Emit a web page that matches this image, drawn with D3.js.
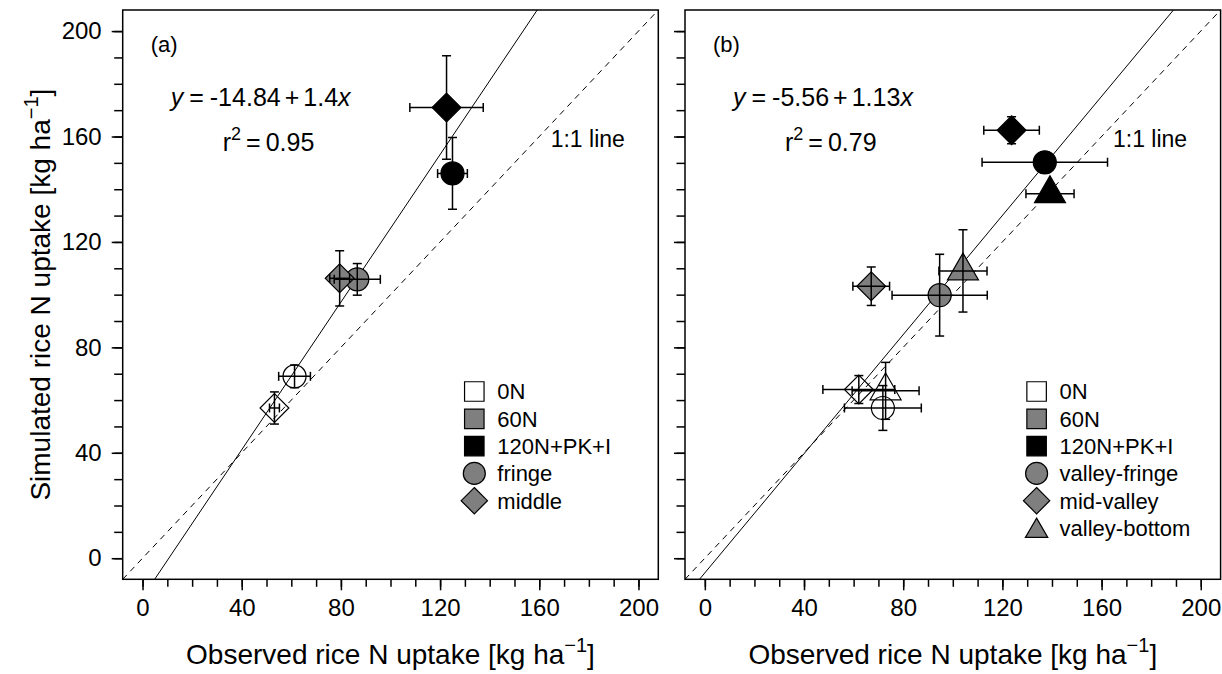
<!DOCTYPE html>
<html>
<head>
<meta charset="utf-8">
<script src="https://cdn.jsdelivr.net/npm/d3@7"></script>
<style>
  body { margin: 0; background: #fff; }
  svg text { font-family: "Liberation Sans", Arial, sans-serif; fill: #000; }
</style>
</head>
<body>
<svg id="chart" width="1222" height="674"></svg>
<script>
// ---- data ----
var treatments = ["0N", "60N", "120N+PK+I"];

// panel (a)
var aPositions = ["fringe", "middle"];
var aTreat = ["0N", "0N", "60N", "60N", "120N+PK+I", "120N+PK+I"];
var aPos   = ["fringe", "middle", "fringe", "middle", "fringe", "middle"];
var aObs    = [61.3, 53.2, 86.6, 79.5, 125.0, 122.6];
var aObsErr = [6.4, 2.0, 9.3, 4.0, 6.0, 14.8];
var aSim    = [69.0, 57.0, 105.8, 106.2, 146.0, 171.0];
var aSimErr = [4.3, 6.1, 6.0, 10.5, 13.6, 19.6];
var aFit = {intercept: -14.84, slope: 1.4, r2: "0.95"};

// panel (b)
var bPositions = ["valley-fringe", "mid-valley", "valley-bottom"];
var bTreat = ["0N", "0N", "0N", "60N", "60N", "60N", "120N+PK+I", "120N+PK+I", "120N+PK+I"];
var bPos   = ["valley-fringe", "mid-valley", "valley-bottom",
              "valley-fringe", "mid-valley", "valley-bottom",
              "valley-fringe", "mid-valley", "valley-bottom"];
var bObs    = [71.8, 62.1, 72.9, 94.7, 67.1, 104.1, 137.1, 123.7, 139.2];
var bObsErr = [15.5, 14.5, 13.5, 19.2, 7.4, 9.7, 25.3, 11.2, 9.7];
var bSim    = [57.0, 64.0, 63.5, 99.8, 103.2, 109.0, 150.2, 162.4, 138.3];
var bSimErr = [8.5, 5.3, 10.8, 15.5, 7.3, 15.6, 4.0, 5.1, 3.0];
var bFit = {intercept: -5.56, slope: 1.13, r2: "0.79"};

var majorTicks = [0, 40, 80, 120, 160, 200];
var minorTicks = d3.range(0, 201, 10);
var axisDomain = [-8, 208];

// ---- styles ----
var fillOf = {"0N": "#ffffff", "60N": "#7f7f7f", "120N+PK+I": "#000000"};
var shapeOrder = ["circle", "diamond", "triangle"];
var R = 11.5;
var legendR = {square: 11, circle: 11, diamond: 10.5, triangle: 8.3};

function shapePath(shape, r) {
  if (shape == "circle") {
    return d3.symbol().type(d3.symbolCircle).size(Math.PI * r * r)();
  }
  if (shape == "diamond") {
    var d = r * 1.2533;
    return "M0," + (-d) + "L" + d + ",0L0," + d + "L" + (-d) + ",0Z";
  }
  if (shape == "triangle") {
    var t0 = r * 1.5551, t1 = r * 1.3468, t2 = r * 0.7776;
    return "M0," + (-t0) + "L" + t1 + "," + t2 + "L" + (-t1) + "," + t2 + "Z";
  }
  var s = r * 0.886;
  return "M" + (-s) + "," + (-s) + "H" + s + "V" + s + "H" + (-s) + "Z";
}

var svg = d3.select("#chart");
var top_ = 10, bottom_ = 579.3;

function drawPanel(cfg) {
  var x = d3.scaleLinear().domain(axisDomain).range([cfg.left, cfg.right]);
  var y = d3.scaleLinear().domain(axisDomain).range([bottom_, top_]);
  var g = svg.append("g");

  // axes: minor and major ticks
  var xMinor = g.append("g").attr("transform", "translate(0," + bottom_ + ")")
    .call(d3.axisBottom(x).tickValues(minorTicks).tickSize(7.5).tickFormat(""));
  var xMajor = g.append("g").attr("transform", "translate(0," + bottom_ + ")")
    .call(d3.axisBottom(x).tickValues(majorTicks).tickSize(11).tickPadding(9).tickFormat(d3.format("d")));
  var yMinor = g.append("g").attr("transform", "translate(" + cfg.left + ",0)")
    .call(d3.axisLeft(y).tickValues(minorTicks).tickSize(8.5).tickFormat(""));
  var yMajor = g.append("g").attr("transform", "translate(" + cfg.left + ",0)")
    .call(d3.axisLeft(y).tickValues(majorTicks).tickSize(11).tickPadding(10)
      .tickFormat(cfg.yLabels ? d3.format("d") : ""));
  [xMinor, xMajor, yMinor, yMajor].forEach(function(a) {
    a.select(".domain").remove();
    a.selectAll("line").attr("stroke", "#000").attr("stroke-width", 1.5);
    a.selectAll("text").style("font-size", "24px").attr("fill", "#000");
  });

  // clip for lines
  var clipId = "clip" + cfg.name;
  svg.append("clipPath").attr("id", clipId).append("rect")
    .attr("x", cfg.left).attr("y", top_)
    .attr("width", cfg.right - cfg.left).attr("height", bottom_ - top_);
  var inner = g.append("g").attr("clip-path", "url(#" + clipId + ")");

  // 1:1 line
  inner.append("line")
    .attr("x1", x(axisDomain[0])).attr("y1", y(axisDomain[0]))
    .attr("x2", x(axisDomain[1])).attr("y2", y(axisDomain[1]))
    .attr("stroke", "#000").attr("stroke-width", 1).attr("stroke-dasharray", "6,5");

  // regression line
  var f = function(v) { return cfg.fit.intercept + cfg.fit.slope * v; };
  inner.append("line")
    .attr("x1", x(-20)).attr("y1", y(f(-20)))
    .attr("x2", x(220)).attr("y2", y(f(220)))
    .attr("stroke", "#000").attr("stroke-width", 1);

  // points with error bars
  var pts = cfg.obs.map(function(o, i) {
    return {obs: o, oe: cfg.obsErr[i], sim: cfg.sim[i], se: cfg.simErr[i],
            treat: cfg.treat[i], pos: cfg.pos[i]};
  });

  inner.selectAll(".pt").data(pts).enter().append("path").attr("class", "pt")
    .attr("transform", function(d) { return "translate(" + x(d.obs) + "," + y(d.sim) + ")"; })
    .attr("d", function(d) { return shapePath(shapeOrder[cfg.positions.indexOf(d.pos)], R); })
    .attr("fill", function(d) { return fillOf[d.treat]; })
    .attr("fill-opacity", function(d) { return d.treat == "0N" ? 0 : 1; })
    .attr("stroke", "#000").attr("stroke-width", 1.2);

  // error bars on top of the symbols
  var cap = 4.5;
  var eb = inner.selectAll(".eb").data(pts).enter().append("g").attr("class", "eb")
    .attr("stroke", "#000").attr("stroke-width", 1.5);
  eb.append("line")
    .attr("x1", function(d) { return x(d.obs - d.oe); })
    .attr("x2", function(d) { return x(d.obs + d.oe); })
    .attr("y1", function(d) { return y(d.sim); })
    .attr("y2", function(d) { return y(d.sim); });
  eb.append("line")
    .attr("x1", function(d) { return x(d.obs); })
    .attr("x2", function(d) { return x(d.obs); })
    .attr("y1", function(d) { return y(d.sim - d.se); })
    .attr("y2", function(d) { return y(d.sim + d.se); });
  [-1, 1].forEach(function(s) {
    eb.append("line")
      .attr("x1", function(d) { return x(d.obs + s * d.oe); })
      .attr("x2", function(d) { return x(d.obs + s * d.oe); })
      .attr("y1", function(d) { return y(d.sim) - cap; })
      .attr("y2", function(d) { return y(d.sim) + cap; });
    eb.append("line")
      .attr("y1", function(d) { return y(d.sim + s * d.se); })
      .attr("y2", function(d) { return y(d.sim + s * d.se); })
      .attr("x1", function(d) { return x(d.obs) - cap; })
      .attr("x2", function(d) { return x(d.obs) + cap; });
  });

  // frame
  g.append("rect")
    .attr("x", cfg.left).attr("y", top_)
    .attr("width", cfg.right - cfg.left).attr("height", bottom_ - top_)
    .attr("fill", "none").attr("stroke", "#000").attr("stroke-width", 1.5);

  // texts
  g.append("text").attr("x", cfg.left + 28).attr("y", 52)
    .style("font-size", "22px").text(cfg.label);

  var eq = g.append("text").attr("x", cfg.left + 48).attr("y", 106).style("font-size", "25px");
  eq.append("tspan").style("font-style", "italic").text("y");
  eq.append("tspan").attr("dx", 6).text("=");
  eq.append("tspan").attr("dx", 6).text(String(cfg.fit.intercept));
  eq.append("tspan").attr("dx", 4).text("+");
  eq.append("tspan").attr("dx", 4).text(String(cfg.fit.slope));
  eq.append("tspan").style("font-style", "italic").text("x");

  var r2 = g.append("text").attr("x", cfg.left + 100).attr("y", 151).style("font-size", "25px");
  r2.append("tspan").text("r");
  r2.append("tspan").attr("dy", -11).style("font-size", "18px").text("2");
  r2.append("tspan").attr("dy", 11).attr("dx", 5).text("=");
  r2.append("tspan").attr("dx", 5).text(cfg.fit.r2);

  g.append("text").attr("x", cfg.left + 428).attr("y", 147)
    .style("font-size", "23px").text("1:1 line");

  // x title
  var xt = g.append("text").attr("x", (cfg.left + cfg.right) / 2).attr("y", 664)
    .attr("text-anchor", "middle").style("font-size", "28px");
  xt.append("tspan").text("Observed rice N uptake [kg ha");
  xt.append("tspan").attr("dy", -12).style("font-size", "20px").text("\u22121");
  xt.append("tspan").attr("dy", 12).text("]");

  // legend
  var lx = cfg.right - 184;
  var items = treatments.map(function(t) { return {label: t, shape: "square", fill: fillOf[t]}; })
    .concat(cfg.positions.map(function(p, i) { return {label: p, shape: shapeOrder[i], fill: fillOf["60N"]}; }));
  var leg = g.selectAll(".leg").data(items).enter().append("g").attr("class", "leg")
    .attr("transform", function(d, i) {
      var dy = d.shape == "triangle" ? 3 : 0;
      return "translate(" + lx + "," + (391.5 + i * 27.3 + dy) + ")";
    });
  leg.append("path")
    .attr("d", function(d) { return shapePath(d.shape, legendR[d.shape]); })
    .attr("fill", function(d) { return d.fill; })
    .attr("stroke", "#000").attr("stroke-width", 1.2);
  leg.append("text").attr("x", 23).attr("dy", function(d) { return d.shape == "triangle" ? "0.22em" : "0.36em"; })
    .style("font-size", "22px").text(function(d) { return d.label; });

  return {x: x, y: y};
}

drawPanel({name: "a", label: "(a)", left: 122.7, right: 658.3, yLabels: true,
  positions: aPositions, treat: aTreat, pos: aPos,
  obs: aObs, obsErr: aObsErr, sim: aSim, simErr: aSimErr, fit: aFit});
drawPanel({name: "b", label: "(b)", left: 685, right: 1220.6, yLabels: false,
  positions: bPositions, treat: bTreat, pos: bPos,
  obs: bObs, obsErr: bObsErr, sim: bSim, simErr: bSimErr, fit: bFit});

// y title
var yt = svg.append("text")
  .attr("transform", "translate(50," + ((top_ + bottom_) / 2) + ") rotate(-90)")
  .attr("text-anchor", "middle").style("font-size", "28px");
yt.append("tspan").text("Simulated rice N uptake [kg ha");
yt.append("tspan").attr("dy", -12).style("font-size", "20px").text("\u22121");
yt.append("tspan").attr("dy", 12).text("]");
</script>
</body>
</html>
